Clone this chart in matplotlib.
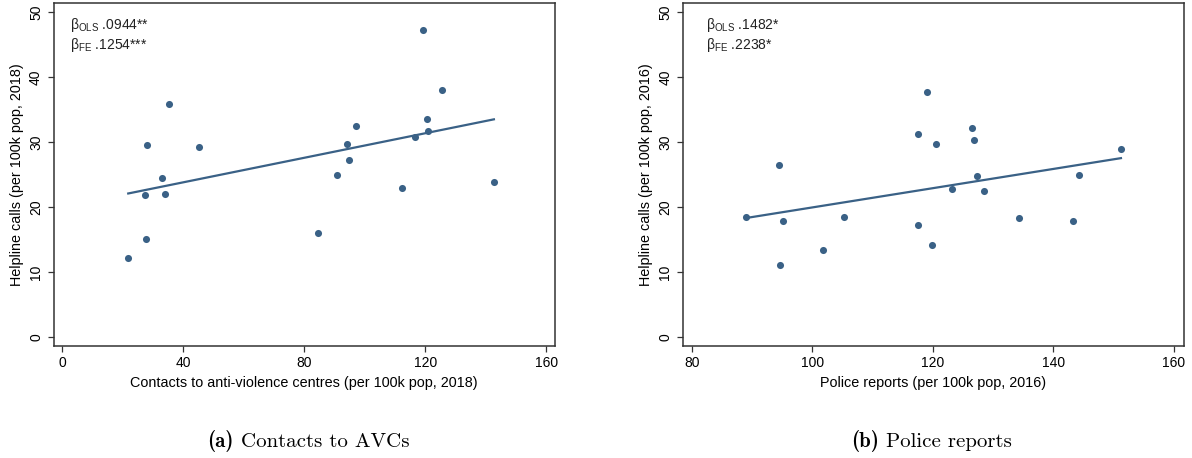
import matplotlib.pyplot as plt
import numpy as np

plt.rcParams["font.family"] = ["Liberation Sans", "DejaVu Sans"]
plt.rcParams["mathtext.fontset"] = "custom"
plt.rcParams["mathtext.rm"] = "Liberation Sans"

# panel (a): contacts to anti-violence centres vs helpline calls
avc_x = [21.8, 27.6, 27.2, 33.9, 84.7, 112.2, 142.7, 35.3, 27.9, 45.1,
         33.1, 119.1, 125.5, 120.6, 120.8, 116.6, 97.0, 94.0, 94.9, 90.8]
avc_y = [12.15, 15.0, 21.8, 22.05, 16.05, 22.9, 23.9, 35.9, 29.5, 29.3,
         24.5, 47.3, 38.0, 33.5, 31.7, 30.8, 32.5, 29.7, 27.3, 24.9]
avc_fit = (20.02, 0.0944)  # intercept, slope
avc_betas = [("OLS", ".0944**"), ("FE", ".1254***")]

# panel (b): police reports vs helpline calls
pol_x = [89.0, 95.1, 94.7, 101.8, 105.3, 117.6, 119.8, 123.2, 128.5, 134.3,
         143.2, 94.4, 117.5, 119.1, 120.5, 126.5, 126.8, 127.4, 144.2, 151.2]
pol_y = [18.4, 17.9, 11.0, 13.4, 18.5, 17.2, 14.2, 22.7, 22.5, 18.3,
         17.9, 26.5, 31.2, 37.7, 29.7, 32.2, 30.3, 24.8, 24.9, 29.0]
pol_fit = (5.11, 0.1482)
pol_betas = [("OLS", ".1482*"), ("FE", ".2238*")]

COL = "#3a6186"
FRAME = "#333333"


def panel(ax, x, y, fit, betas, xticks, xlim, xlabel, ylabel, bx):
    ax.scatter(x, y, s=26, color=COL, zorder=3, linewidths=0)
    xs = np.array([min(x), max(x)])
    ax.plot(xs, fit[0] + fit[1] * xs, color=COL, lw=1.6, zorder=2)
    ax.set_xlim(*xlim)
    ax.set_ylim(-1.4, 51.4)
    ax.set_xticks(xticks)
    ax.set_yticks([0, 10, 20, 30, 40, 50])
    for lab in ax.get_yticklabels():
        lab.set_rotation(90)
        lab.set_va("center")
    ax.tick_params(direction="out", length=4.5, width=0.9, color=FRAME,
                   labelsize=10, pad=3)
    for s in ax.spines.values():
        s.set_color(FRAME)
        s.set_linewidth(1.1)
    ax.set_xlabel(xlabel, fontsize=10.4, labelpad=4)
    ax.set_ylabel(ylabel, fontsize=10.4, labelpad=4)
    for i, (sub, val) in enumerate(betas):
        ax.text(bx, 0.936 - 0.058 * i,
                "β$_{\\mathrm{%s}}$ %s" % (sub, val),
                transform=ax.transAxes, fontsize=10, va="center",
                color="#222222")


fig = plt.figure(figsize=(11.92, 4.58), dpi=100)
ax1 = fig.add_axes([0.0449, 0.2445, 0.4207, 0.749])
ax2 = fig.add_axes([0.5727, 0.2445, 0.4208, 0.749])

panel(ax1, avc_x, avc_y, avc_fit, avc_betas, [0, 40, 80, 120, 160],
      (-2.9, 162.9), "Contacts to anti-violence centres (per 100k pop, 2018)",
      "Helpline calls (per 100k pop, 2018)", 0.033)
panel(ax2, pol_x, pol_y, pol_fit, pol_betas, [80, 100, 120, 140, 160],
      (78.5, 161.7), "Police reports (per 100k pop, 2016)",
      "Helpline calls (per 100k pop, 2016)", 0.046)

# captions below each panel, bold tag followed by roman text
fig.canvas.draw()
r = fig.canvas.get_renderer()
for x0, tag, cap in [(0.1737, "(a)", "Contacts to AVCs"),
                     (0.714, "(b)", "Police reports")]:
    t = fig.text(x0, 0.024, tag, fontfamily="cmb10", fontsize=15,
                 ha="left", va="baseline")
    bb = t.get_window_extent(renderer=r)
    fig.text(bb.x1 / fig.bbox.width + 0.006, 0.024, cap, fontfamily="cmr10",
             fontsize=15, ha="left", va="baseline")

fig.savefig("out.png", dpi=100)
